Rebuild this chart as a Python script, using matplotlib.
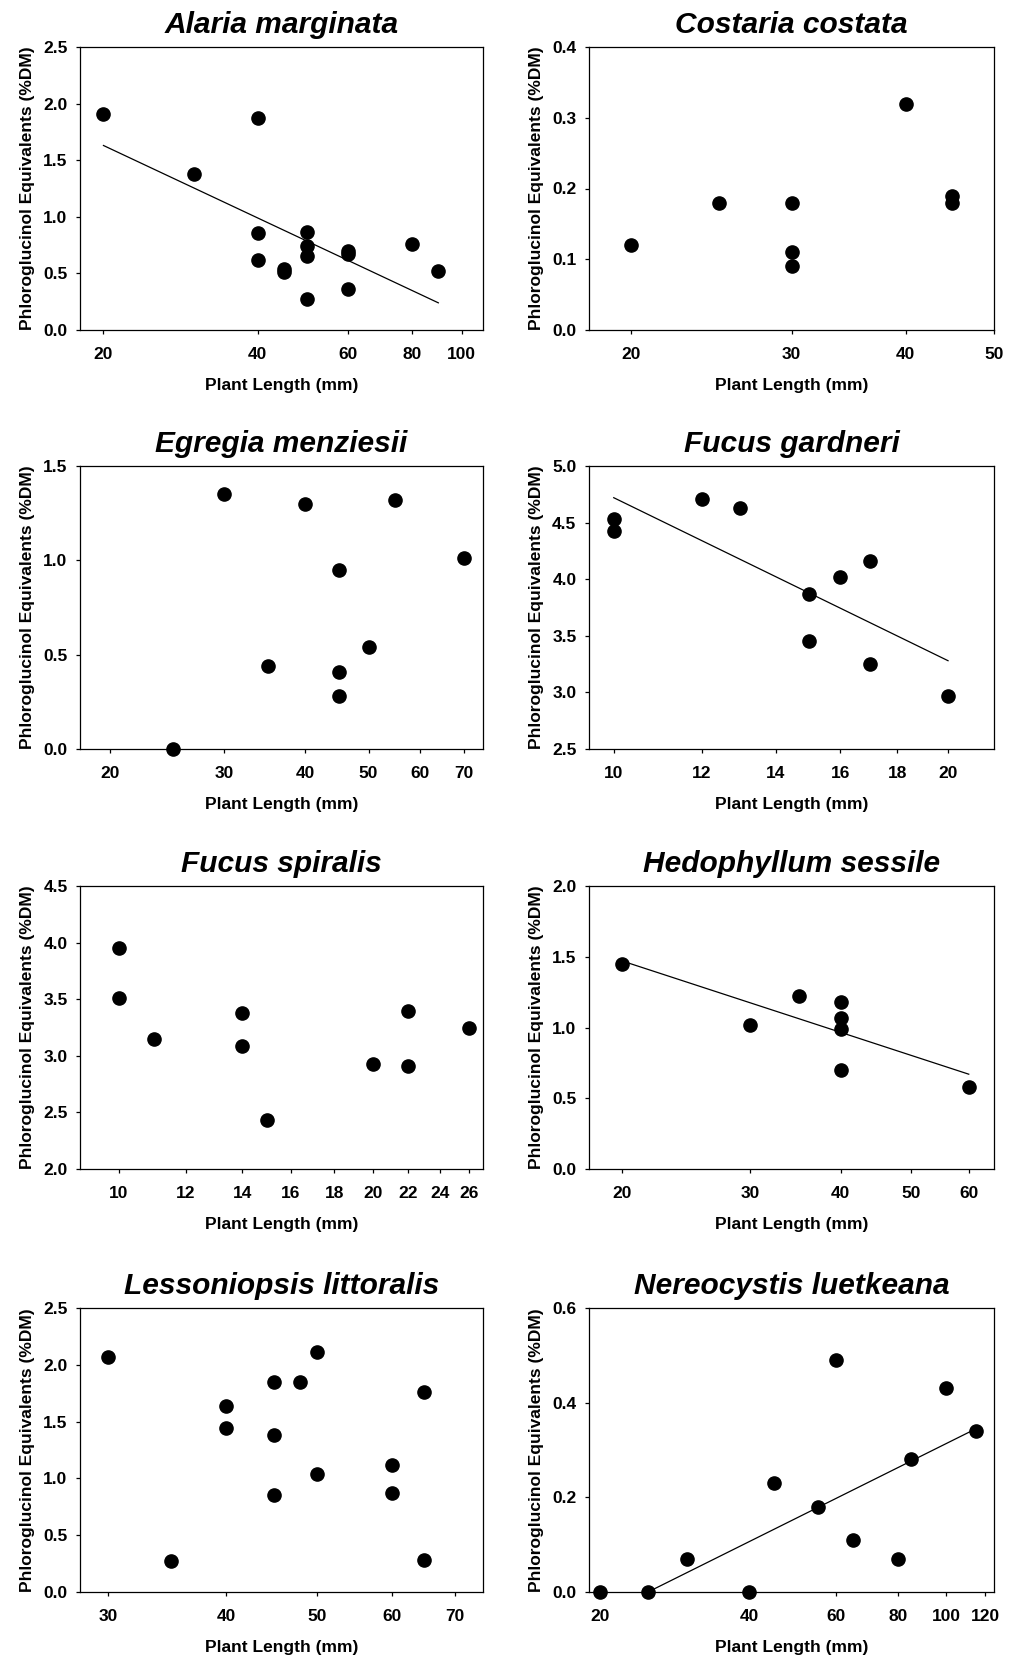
import matplotlib
matplotlib.use("Agg")
import matplotlib.pyplot as plt
from matplotlib.ticker import FixedLocator, NullLocator, FormatStrFormatter

plt.rcParams["font.family"] = ["Liberation Sans", "DejaVu Sans"]
plt.rcParams["font.weight"] = "bold"

# --- data (x = plant length mm, y = phloroglucinol %DM) ---
alaria_x = [20, 30, 40, 40, 40, 45, 45, 50, 50, 50, 50, 60, 60, 60, 80, 90]
alaria_y = [1.91, 1.38, 1.87, 0.86, 0.62, 0.54, 0.51, 0.87, 0.74, 0.65, 0.27, 0.70, 0.67, 0.36, 0.76, 0.52]
alaria_fit_x = [20, 90]
alaria_fit_y = [1.63, 0.24]

costaria_x = [20, 25, 30, 30, 30, 40, 45, 45]
costaria_y = [0.12, 0.18, 0.18, 0.11, 0.09, 0.32, 0.19, 0.18]

egregia_x = [25, 30, 35, 40, 45, 45, 45, 50, 55, 70]
egregia_y = [0.0, 1.35, 0.44, 1.30, 0.95, 0.41, 0.28, 0.54, 1.32, 1.01]

gardneri_x = [10, 10, 12, 13, 15, 15, 16, 17, 17, 20]
gardneri_y = [4.53, 4.43, 4.71, 4.63, 3.87, 3.45, 4.02, 4.16, 3.25, 2.97]
gardneri_fit_x = [10, 20]
gardneri_fit_y = [4.72, 3.28]

spiralis_x = [10, 10, 11, 14, 14, 15, 20, 22, 22, 26]
spiralis_y = [3.95, 3.51, 3.15, 3.38, 3.09, 2.43, 2.93, 3.40, 2.91, 3.25]

hedophyllum_x = [20, 30, 35, 40, 40, 40, 40, 60]
hedophyllum_y = [1.45, 1.02, 1.22, 1.18, 1.07, 0.99, 0.70, 0.58]
hedophyllum_fit_x = [20, 60]
hedophyllum_fit_y = [1.47, 0.67]

lessoniopsis_x = [30, 35, 40, 40, 45, 45, 45, 48, 50, 50, 60, 60, 65, 65]
lessoniopsis_y = [2.07, 0.27, 1.64, 1.44, 1.85, 1.38, 0.85, 1.85, 2.11, 1.04, 1.12, 0.87, 1.76, 0.28]

nereocystis_x = [20, 25, 30, 40, 45, 55, 60, 65, 80, 85, 100, 115]
nereocystis_y = [0.0, 0.0, 0.07, 0.0, 0.23, 0.18, 0.49, 0.11, 0.07, 0.28, 0.43, 0.34]
nereocystis_fit_x = [25, 115]
nereocystis_fit_y = [0.0, 0.345]

titles = ["Alaria marginata", "Costaria costata", "Egregia menziesii", "Fucus gardneri",
          "Fucus spiralis", "Hedophyllum sessile", "Lessoniopsis littoralis", "Nereocystis luetkeana"]
xticks = [[20, 40, 60, 80, 100], [20, 30, 40, 50], [20, 30, 40, 50, 60, 70],
          [10, 12, 14, 16, 18, 20], [10, 12, 14, 16, 18, 20, 22, 24, 26],
          [20, 30, 40, 50, 60], [30, 40, 50, 60, 70], [20, 40, 60, 80, 100, 120]]
xlims = [(18, 110), (18, 50), (18, 75), (9.5, 22), (9, 27), (18, 65), (28, 75), (19, 125)]
ylims = [(0, 2.5), (0, 0.4), (0, 1.5), (2.5, 5.0), (2.0, 4.5), (0, 2.0), (0, 2.5), (0, 0.6)]
ysteps = [0.5, 0.1, 0.5, 0.5, 0.5, 0.5, 0.5, 0.2]

panels = [
    (alaria_x, alaria_y, alaria_fit_x, alaria_fit_y),
    (costaria_x, costaria_y, None, None),
    (egregia_x, egregia_y, None, None),
    (gardneri_x, gardneri_y, gardneri_fit_x, gardneri_fit_y),
    (spiralis_x, spiralis_y, None, None),
    (hedophyllum_x, hedophyllum_y, hedophyllum_fit_x, hedophyllum_fit_y),
    (lessoniopsis_x, lessoniopsis_y, None, None),
    (nereocystis_x, nereocystis_y, nereocystis_fit_x, nereocystis_fit_y),
]

W, H = 1015, 1657
fig = plt.figure(figsize=(W / 100, H / 100), dpi=100)

cols = [(80, 483), (589, 994)]
rows = [(47, 330), (466, 749), (886, 1169), (1308, 1592)]

for i, (x, y, fx, fy) in enumerate(panels):
    c0, c1 = cols[i % 2]
    r0, r1 = rows[i // 2]
    ax = fig.add_axes([c0 / W, 1 - r1 / H, (c1 - c0) / W, (r1 - r0) / H])
    ax.set_xscale("log")
    ax.plot(x, y, "o", color="black", markersize=9.5, clip_on=False, zorder=3)
    if fx is not None:
        ax.plot(fx, fy, "-", color="black", linewidth=0.9)
    ax.set_xlim(*xlims[i])
    ax.set_ylim(*ylims[i])
    ax.xaxis.set_major_locator(FixedLocator(xticks[i]))
    ax.xaxis.set_minor_locator(NullLocator())
    ax.xaxis.set_major_formatter(FormatStrFormatter("%d"))
    lo, hi = ylims[i]
    n = int(round((hi - lo) / ysteps[i]))
    ax.set_yticks([lo + k * ysteps[i] for k in range(n + 1)])
    ax.yaxis.set_major_formatter(FormatStrFormatter("%.1f"))
    ax.tick_params(axis="both", direction="out", length=3, width=0.9, labelsize=12.5)
    ax.tick_params(axis="x", pad=9)
    ax.tick_params(axis="y", pad=6)
    for s in ax.spines.values():
        s.set_linewidth(0.9)
    ax.set_title(titles[i], fontsize=21.5, fontweight="bold", fontstyle="italic", pad=10)
    ax.set_xlabel("Plant Length (mm)", fontsize=12.5, fontweight="bold", labelpad=12)
    ax.set_ylabel("Phloroglucinol Equivalents (%DM)", fontsize=12.5, fontweight="bold", labelpad=6)

fig.savefig("out.png", dpi=100)
